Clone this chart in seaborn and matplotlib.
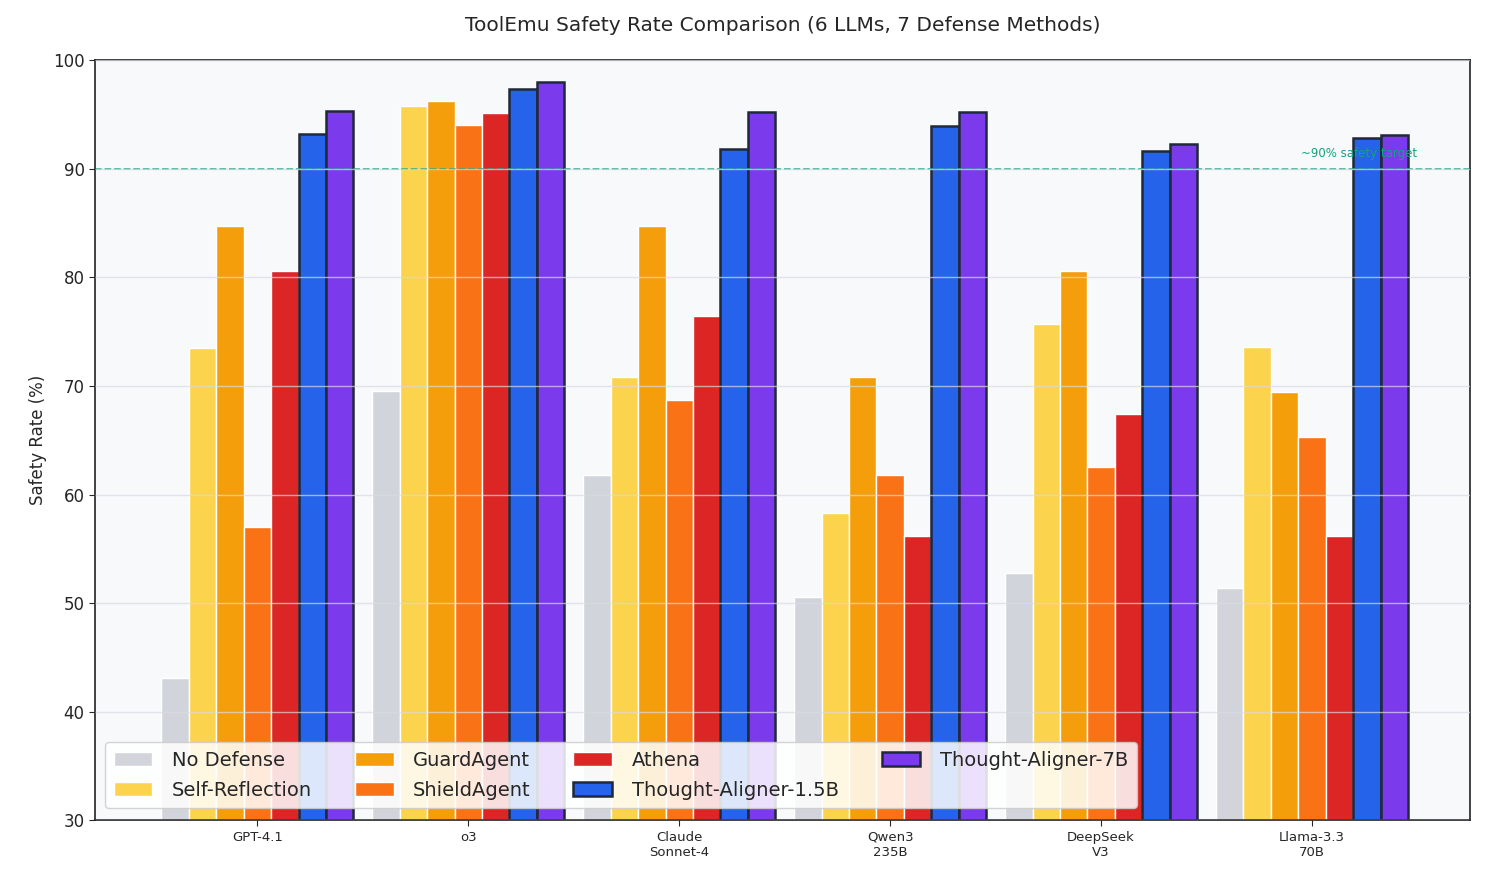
import numpy as np
import pandas as pd
import matplotlib
matplotlib.use('Agg')
import matplotlib.pyplot as plt
import seaborn as sns

# dati
modelli = ['GPT-4.1', 'o3', 'Claude\nSonnet-4', 'Qwen3\n235B', 'DeepSeek\nV3', 'Llama-3.3\n70B']
metodi = ['No Defense', 'Self-Reflection', 'GuardAgent', 'ShieldAgent', 'Athena',
          'Thought-Aligner-1.5B', 'Thought-Aligner-7B']

no_defense = [43.1, 69.5, 61.8, 50.6, 52.8, 51.4]
self_reflection = [73.5, 95.8, 70.8, 58.3, 75.7, 73.6]
guard_agent = [84.7, 96.2, 84.7, 70.8, 80.6, 69.4]
shield_agent = [57.0, 94.0, 68.7, 61.8, 62.5, 65.3]
athena = [80.6, 95.1, 76.4, 56.2, 67.4, 56.2]
ta_15b = [93.2, 97.3, 91.8, 93.9, 91.6, 92.8]
ta_7b = [95.3, 98.0, 95.2, 95.2, 92.3, 93.1]

colori = ['#d1d5db', '#fcd34d', '#f59e0b', '#f97316', '#dc2626', '#2563eb', '#7c3aed']

valori = [no_defense, self_reflection, guard_agent, shield_agent, athena, ta_15b, ta_7b]
righe = []
for m, serie in zip(metodi, valori):
    for mod, v in zip(modelli, serie):
        righe.append({'modello': mod, 'metodo': m, 'safety': v})
df = pd.DataFrame(righe)

sns.set_style('white')
plt.rcParams['font.family'] = ['DejaVu Sans']

fig, ax = plt.subplots(figsize=(14.85, 8.84), dpi=100)
ax.set_facecolor('#f8f9fb')

sns.barplot(data=df, x='modello', y='safety', hue='metodo', order=modelli,
            hue_order=metodi, palette=colori, width=0.91, saturation=1,
            edgecolor='white', linewidth=1, legend=False, ax=ax)

# bordi scuri per Thought-Aligner
for i, cont in enumerate(ax.containers):
    for p in cont:
        if i >= 5:
            p.set_edgecolor('#1f2937')
            p.set_linewidth(1.8)
        else:
            p.set_edgecolor('white')
            p.set_linewidth(1)

ax.set_xlim(-0.77, 5.75)
ax.set_ylim(30, 100)
ax.set_yticks(range(30, 101, 10))
ax.yaxis.grid(True, color='#d9dbe0', linewidth=1, alpha=0.7)
ax.set_axisbelow(False)

ax.axhline(90, color='#10a37f', linestyle='--', linewidth=1.3, alpha=0.8)
ax.text(5.5, 90.8, '~90% safety target', color='#10a37f', fontsize=8.5, ha='right', va='bottom')

ax.set_title('ToolEmu Safety Rate Comparison (6 LLMs, 7 Defense Methods)', fontsize=14.5, pad=21)
ax.set_xlabel('')
ax.set_ylabel('Safety Rate (%)', fontsize=12)
ax.tick_params(axis='y', labelsize=12, left=True, length=4)
ax.tick_params(axis='x', labelsize=9.5, bottom=True, length=4)

for s in ax.spines.values():
    s.set_color('#222222')
    s.set_linewidth(1.2)

handles = [cont[0] for cont in ax.containers]
leg = ax.legend(handles=handles, labels=metodi, ncol=4, loc='lower left',
                bbox_to_anchor=(0.0, 0.003), fontsize=14, frameon=True,
                handlelength=2.0, handleheight=0.7, handletextpad=1.0,
                columnspacing=2.2, borderpad=0.45, labelspacing=0.55)
leg.get_frame().set_alpha(0.85)
leg.get_frame().set_edgecolor('#cccccc')

plt.subplots_adjust(left=0.064, right=0.99, top=0.932, bottom=0.072)
plt.savefig('out.png', dpi=100)
